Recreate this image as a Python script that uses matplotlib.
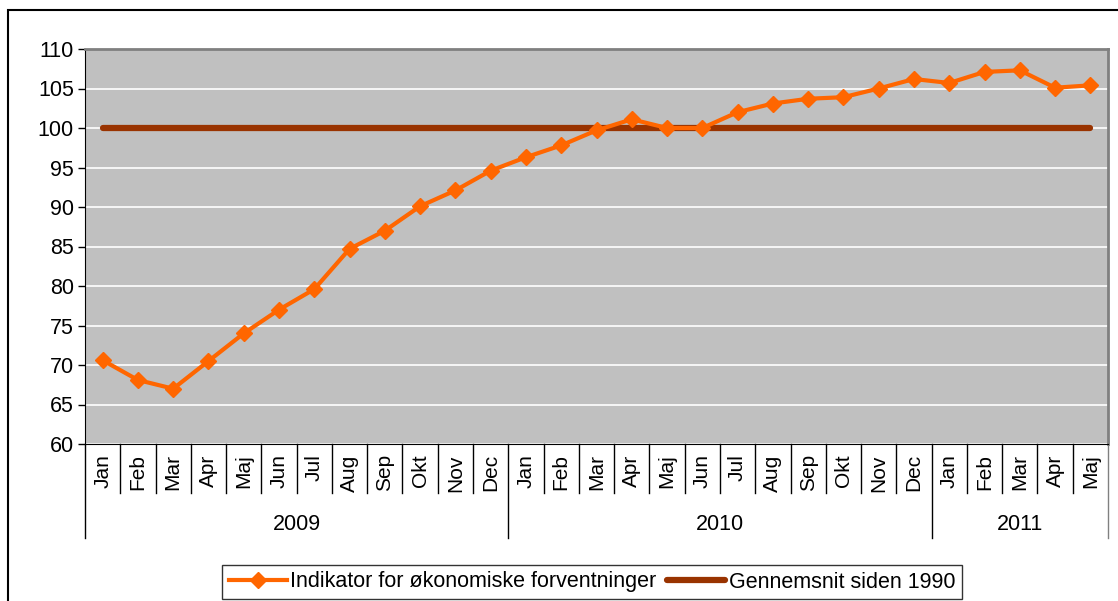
import matplotlib.pyplot as plt
from matplotlib.patches import Rectangle
from matplotlib.lines import Line2D

plt.rcParams['font.family'] = ['Liberation Sans', 'DejaVu Sans']

# data
months = ['Jan', 'Feb', 'Mar', 'Apr', 'Maj', 'Jun', 'Jul', 'Aug', 'Sep', 'Okt', 'Nov', 'Dec',
          'Jan', 'Feb', 'Mar', 'Apr', 'Maj', 'Jun', 'Jul', 'Aug', 'Sep', 'Okt', 'Nov', 'Dec',
          'Jan', 'Feb', 'Mar', 'Apr', 'Maj']
years = ['2009', '2010', '2011']
year_counts = [12, 12, 5]
indicator = [70.6, 68.1, 67.0, 70.5, 74.0, 77.0, 79.6, 84.7, 87.0, 90.1, 92.1, 94.6,
             96.3, 97.8, 99.7, 101.1, 100.0, 100.0, 102.0, 103.1, 103.7, 103.9, 105.0, 106.2,
             105.7, 107.1, 107.3, 105.1, 105.4]
average = [100] * len(months)

orange = '#FF6600'
brown = '#993300'

fig = plt.figure(figsize=(11.18, 6.01), dpi=100)
W, H = 1118, 601
ax = fig.add_axes([85 / W, 1 - 444 / H, (1108 - 85) / W, (444 - 49) / H])
ax.set_facecolor('#C0C0C0')

x = list(range(len(months)))
ax.plot(x, average, color=brown, lw=4.5, solid_capstyle='round', zorder=3)
ax.plot(x, indicator, color=orange, lw=3, marker='D', markersize=8, zorder=4)

ax.set_xlim(-0.5, len(months) - 0.5)
ax.set_ylim(60, 110)
ax.set_yticks(range(60, 111, 5))
ax.yaxis.grid(True, color='white', lw=1.2)
ax.set_axisbelow(True)
ax.tick_params(axis='y', labelsize=15.5, length=5, width=1, direction='out', pad=3)
ax.set_xticks([])

for s in ['top', 'right']:
    ax.spines[s].set_color('#808080')
    ax.spines[s].set_linewidth(2)
ax.spines['left'].set_color('black')
ax.spines['bottom'].set_color('black')

# month labels and separators under the axis
trans = ax.get_xaxis_transform()
for i, m in enumerate(months):
    ax.text(i, -0.026, m, rotation=90, ha='center', va='top', fontsize=15, transform=trans)

month_bottom = -(493 - 444) / 395
year_bottom = -(538 - 444) / 395
bounds = [-0.5]
for c in year_counts:
    bounds.append(bounds[-1] + c)
for i in range(len(months) + 1):
    b = i - 0.5
    low = year_bottom if b in bounds else month_bottom
    col = '#808080' if i == len(months) else 'black'
    ax.plot([b, b], [0, low], color=col, lw=1, transform=trans, clip_on=False)

for k, yr in enumerate(years):
    mid = (bounds[k] + bounds[k + 1]) / 2
    ax.text(mid, -(524 - 444) / 395, yr, ha='center', va='center', fontsize=15.5, transform=trans)

# legend
handles = [Line2D([], [], color=orange, lw=3, marker='D', markersize=8),
           Line2D([], [], color=brown, lw=4.5, solid_capstyle='round')]
leg = fig.legend(handles, ['Indikator for økonomiske forventninger', 'Gennemsnit siden 1990'],
                 loc='center', bbox_to_anchor=(592 / W, 1 - 582 / H), ncol=2, fontsize=15.5,
                 frameon=True, fancybox=False, handlelength=2.7, handletextpad=0.15,
                 columnspacing=0.5, borderpad=0.3, borderaxespad=0)
leg.get_frame().set_edgecolor('black')
leg.get_frame().set_linewidth(1)

# outer chart border
fig.patches.append(Rectangle((8 / W, -0.05), 1.2, 1 - 10 / H + 0.05, transform=fig.transFigure,
                             fill=False, edgecolor='black', lw=1.5))

fig.savefig('out.png', dpi=100)
